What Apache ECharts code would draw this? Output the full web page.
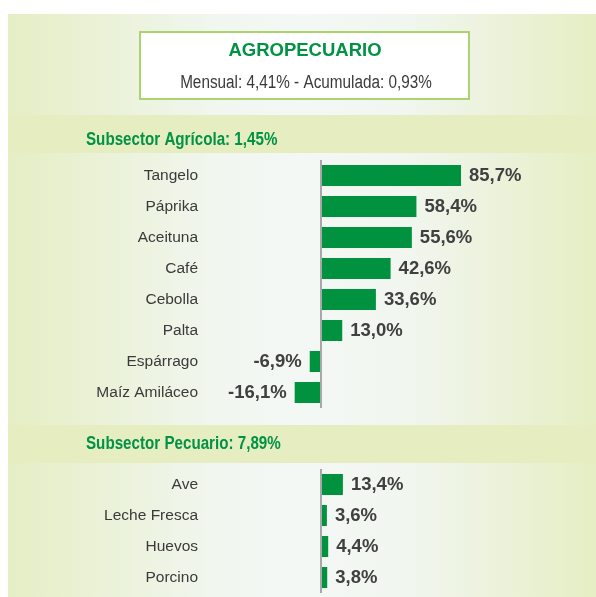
<!DOCTYPE html>
<html>
<head>
<meta charset="utf-8">
<script src="https://cdn.jsdelivr.net/npm/echarts@6.0.0/dist/echarts.min.js"></script>
<style>
html,body{margin:0;padding:0;background:#fff;}
#chart{width:596px;height:597px;}
</style>
</head>
<body>
<div id="chart"></div>
<script>
// ---- data ----
const titleText = 'AGROPECUARIO';
const subtitleText = 'Mensual: 4,41% - Acumulada: 0,93%';
const agriHeader = 'Subsector Agrícola: 1,45%';
const pecuHeader = 'Subsector Pecuario: 7,89%';
const agriCategories = ['Tangelo', 'Páprika', 'Aceituna', 'Café', 'Cebolla', 'Palta', 'Espárrago', 'Maíz Amiláceo'];
const agriValues = [85.7, 58.4, 55.6, 42.6, 33.6, 13.0, -6.9, -16.1];
const pecuCategories = ['Ave', 'Leche Fresca', 'Huevos', 'Porcino'];
const pecuValues = [13.4, 3.6, 4.4, 3.8];

// ---- layout / style ----
const GREEN = '#009245';
const BAR = '#00923f';
const SANS = '"Liberation Sans", Arial, sans-serif';
const xMin = -20, xMax = 100;
const pxPerUnit = 1.634;
const zeroX = 321;
const gridLeft = zeroX - (0 - xMin) * pxPerUnit;
const gridWidth = (xMax - xMin) * pxPerUnit;
const labelRight = 198;

const fmt = v => v.toFixed(1).replace('.', ',') + '%';
const mkData = vals => vals.map(v => ({ value: v, label: { position: v < 0 ? 'left' : 'right' } }));

const chart = echarts.init(document.getElementById('chart'), null, { renderer: 'canvas' });

function xAxisCfg(gi) {
  return { gridIndex: gi, type: 'value', min: xMin, max: xMax, show: false };
}
function yAxisCfg(gi, cats) {
  return {
    gridIndex: gi, type: 'category', data: cats, inverse: true,
    axisLine: { show: false }, axisTick: { show: false }, splitLine: { show: false },
    axisLabel: { margin: gridLeft - labelRight, fontFamily: SANS, fontSize: 15.5, color: '#3a3a3a' }
  };
}
function seriesCfg(i, vals) {
  return {
    type: 'bar', xAxisIndex: i, yAxisIndex: i, data: mkData(vals), barWidth: 21,
    itemStyle: { color: BAR },
    label: { show: true, distance: 8, formatter: p => fmt(p.value), fontFamily: SANS, fontWeight: 'bold', fontSize: 18.5, color: '#404040' },
    markLine: {
      silent: true, symbol: 'none', label: { show: false },
      lineStyle: { color: '#a8a8a8', width: 2, type: 'solid' },
      data: [{ xAxis: 0 }]
    }
  };
}

const option = {
  animation: false,
  backgroundColor: '#ffffff',
  graphic: [
    { type: 'rect', z: -10, shape: { x: 8, y: 14, width: 588, height: 583 },
      style: { fill: new echarts.graphic.LinearGradient(0, 0, 1, 0, [
        { offset: 0, color: '#e5eec4' }, { offset: 0.35, color: '#f1f6ef' },
        { offset: 0.5, color: '#f4f8f5' }, { offset: 0.68, color: '#f1f6ef' }, { offset: 1, color: '#e6eec4' }]) } },
    { type: 'rect', z: -9, shape: { x: 8, y: 115, width: 588, height: 38 }, style: { fill: '#e6eec1' } },
    { type: 'rect', z: -9, shape: { x: 8, y: 425, width: 588, height: 38 }, style: { fill: '#e6eec1' } },
    { type: 'rect', z: -8, shape: { x: 140, y: 32, width: 329, height: 67 }, style: { fill: '#ffffff', stroke: '#a9d46e', lineWidth: 2 } },
    { type: 'text', z: 10, x: 305, y: 51, style: { text: titleText, fill: GREEN, fontFamily: SANS, fontWeight: 'bold', fontSize: 18.5, textAlign: 'center', textVerticalAlign: 'middle' } },
    { type: 'text', z: 10, x: 306, y: 83, scaleX: 0.85, style: { text: subtitleText, fill: '#3a3a3a', fontFamily: SANS, fontSize: 18, textAlign: 'center', textVerticalAlign: 'middle' } },
    { type: 'text', z: 10, x: 86, y: 140, scaleX: 0.82, style: { text: agriHeader, fill: GREEN, fontFamily: SANS, fontWeight: 'bold', fontSize: 18.5, textAlign: 'left', textVerticalAlign: 'middle' } },
    { type: 'text', z: 10, x: 86, y: 444, scaleX: 0.82, style: { text: pecuHeader, fill: GREEN, fontFamily: SANS, fontWeight: 'bold', fontSize: 18.5, textAlign: 'left', textVerticalAlign: 'middle' } }
  ],
  grid: [
    { left: gridLeft, width: gridWidth, top: 160, height: 248 },
    { left: gridLeft, width: gridWidth, top: 469, height: 124 }
  ],
  xAxis: [xAxisCfg(0), xAxisCfg(1)],
  yAxis: [yAxisCfg(0, agriCategories), yAxisCfg(1, pecuCategories)],
  series: [seriesCfg(0, agriValues), seriesCfg(1, pecuValues)]
};
chart.setOption(option);
</script>
</body>
</html>
